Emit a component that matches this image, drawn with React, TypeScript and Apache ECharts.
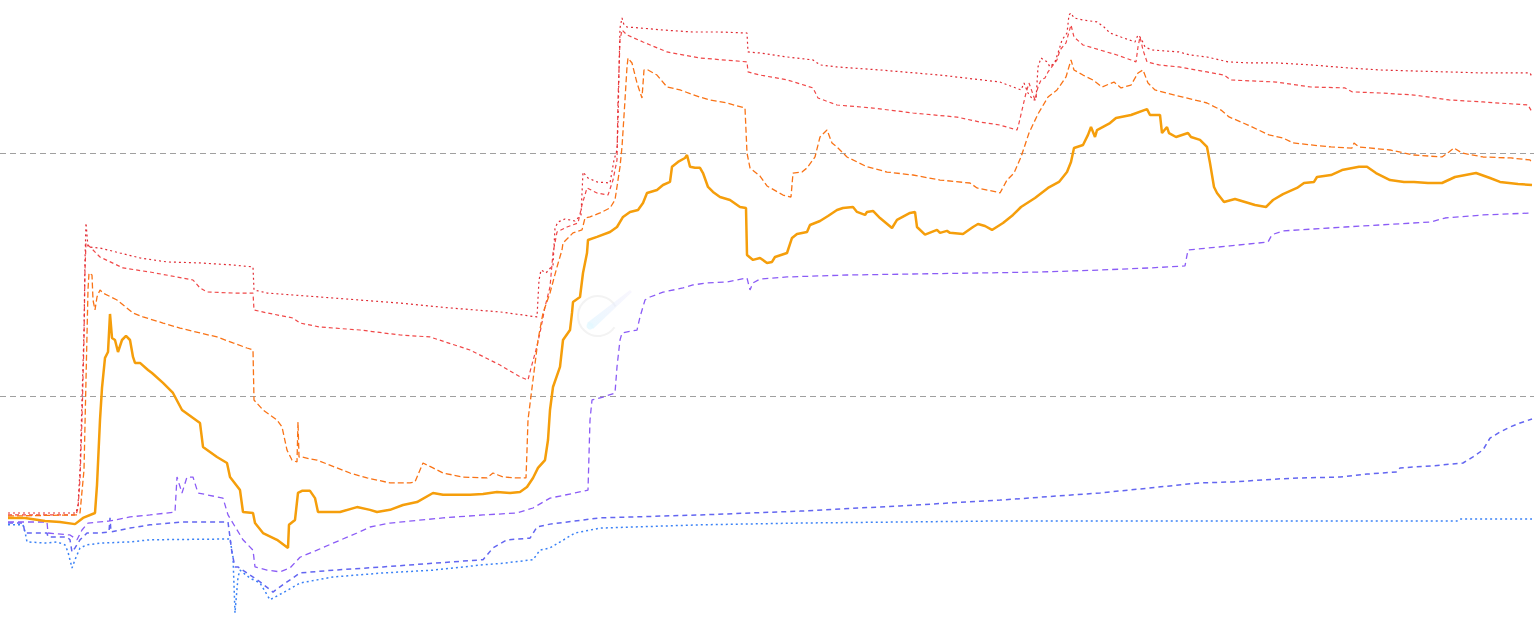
import React, { useEffect, useRef } from "react";
import * as echarts from "echarts";

// x = day index, y = price (log scale)
const priceLine: [number, number][] = [[0,31.5],[17,31.5],[37,30.6],[52,30.3],[67,29.7],[75,31.5],[87,33.0],[89,43.0],[92,79.7],[94,107.9],[97,143.5],[100,151.7],[102,217.6],[104,173.3],[107,170],[110,151.7],[114,170],[118,176.6],[122,170],[125,144.8],[127,136.8],[132,136.8],[140,128],[144,124.3],[155,113.2],[165,102.9],[174,87.6],[192,77.4],[195,61.7],[209,56.1],[219,53],[222,46.4],[232,41],[235,33.3],[245,33],[247,30],[255,27.3],[269,25.6],[280,23.7],[281,29.5],[287,30.9],[290,39.9],[294,40.7],[302,40.7],[307,38],[310,33.3],[332,33.3],[349,34.9],[362,34],[369,33.3],[382,34],[395,35.6],[409,36.6],[425,39.9],[435,39.2],[462,39.2],[475,39.5],[489,40.3],[502,39.9],[512,40.3],[519,42.2],[525,46],[530,50.6],[537,54.5],[540,65.9],[542,87.6],[545,108.9],[552,131.8],[555,170],[562,186.8],[564,219.7],[565,243.7],[572,255.5],[575,320.8],[579,387.7],[580,438.7],[589,451.4],[602,473],[609,496],[615,545.6],[622,572],[630,583],[635,622.7],[639,684.6],[649,704.5],[655,738.5],[662,760],[664,877.5],[670,918.6],[677,954],[679,981],[682,877.5],[687,869],[692,869],[695,827],[700,724.8],[705,691.3],[712,659],[722,640.6],[732,599.5],[738,594],[739,380.3],[745,363.1],[752,370],[759,352.8],[764,356.2],[767,373.2],[779,387.7],[784,447.2],[789,464.5],[799,473],[802,505.5],[812,525.1],[820,550.7],[829,583],[835,594],[845,599.5],[849,572],[857,556],[859,572],[865,577.5],[872,540.1],[884,491.3],[889,530.2],[902,566.6],[907,572],[909,496],[917,461.2],[929,482.3],[932,469.2],[939,478],[942,469.2],[955,464.5],[965,496],[970,510.4],[977,500.7],[984,482.3],[995,515.3],[1005,556],[1013,599.5],[1027,653],[1040,718],[1051,760],[1059,835],[1063,918.6],[1066,1048],[1075,1079],[1080,1187],[1083,1279],[1087,1164],[1089,1243],[1102,1328],[1108,1394],[1123,1434],[1139,1516],[1142,1434],[1152,1434],[1154,1208],[1159,1279],[1161,1208],[1168,1164],[1180,1208],[1183,1164],[1192,1132],[1199,1059],[1202,910],[1206,724.8],[1209,684.6],[1216,628.6],[1227,646.6],[1237,628.6],[1247,611],[1258,599.5],[1265,640.6],[1275,677.6],[1289,718],[1296,752.5],[1306,760],[1309,796.6],[1323,811.7],[1334,851],[1351,877.5],[1359,877.5],[1368,827],[1382,774],[1396,760],[1406,760],[1420,752.5],[1434,752.5],[1447,796.6],[1468,827],[1482,789],[1492,760],[1510,745],[1524,738.5]];

const orangeBand: [number, number][] = [[0,32.07],[69,32.4],[72,33.0],[76,49.6],[78,116.4],[80,273.2],[81,320.8],[84,314.7],[85,248.3],[87,226],[89,255.5],[92,273.2],[95,265.3],[109,248.3],[125,219.7],[135,211.5],[155,199.7],[172,190.3],[192,181.7],[209,175],[225,165.4],[239,157.6],[245,154.6],[246,96.3],[255,87.6],[269,79.7],[274,74.6],[279,59.9],[284,54.5],[289,53.5],[290,78.2],[291,56.1],[294,56.1],[302,55.1],[309,54.5],[329,50.6],[342,48.2],[359,46.0],[382,43.9],[402,43.9],[407,44.3],[412,49.6],[415,53.0],[425,50.6],[435,48.2],[455,46.4],[479,46.0],[485,48.2],[490,47.3],[495,46.4],[509,46.0],[518,46.0],[519,59.9],[520,79.7],[525,116.4],[530,170],[535,219.7],[542,265.3],[549,339.7],[554,398.9],[555,426.3],[565,469],[574,482.3],[577,540.1],[582,545.6],[592,566.6],[602,594],[607,640.6],[612,877.5],[614,1059],[617,1653],[619,2260],[620,2460],[624,2346],[629,1940],[634,1683],[636,2196],[640,2196],[649,2093],[659,1869],[672,1817],[692,1699],[702,1653],[719,1606],[737,1531],[739,1000],[742,868],[752,804],[759,731.6],[775,671.5],[783,659],[785,827],[794,835],[799,868],[807,963],[812,1164],[819,1243],[824,1100],[829,1059],[839,963],[859,877.5],[879,835],[905,811.7],[932,774],[962,752.5],[969,718],[989,691.3],[992,684.6],[999,774],[1006,827],[1013,963],[1021,1208],[1030,1448],[1040,1699],[1049,1817],[1058,2055],[1063,2415],[1066,2196],[1075,2093],[1085,1997],[1094,1869],[1106,1959],[1113,1853],[1123,1903],[1130,2135],[1135,2196],[1140,1940],[1147,1817],[1158,1766],[1175,1699],[1199,1606],[1213,1502],[1221,1408],[1240,1303],[1261,1187],[1275,1153],[1285,1100],[1303,1079],[1323,1059],[1344,1048],[1346,1100],[1351,1059],[1382,1029],[1406,981],[1434,963],[1441,1010],[1446,1048],[1454,1000],[1475,963],[1503,954],[1522,936],[1524,910]];

const redTop: [number, number][] = [[0,33.0],[68,33.0],[70,35.6],[72,49.6],[74,96.3],[76,186.8],[77,363.1],[78,515.3],[80,410.4],[92,406.5],[112,387.7],[132,370],[159,356.2],[192,352.8],[225,346.1],[245,339.7],[246,273.2],[259,265.3],[285,260.4],[312,255.5],[392,241.2],[442,230.3],[492,221.8],[529,211.5],[531,300],[533,329.9],[538,320.8],[545,346.1],[547,491.3],[550,520.1],[557,535],[567,525.1],[573,556],[575,835],[580,789],[589,760],[602,752.5],[606,936],[609,1029],[610,1303],[611,2196],[612,3269],[614,3595],[616,3364],[619,3300],[632,3269],[655,3207],[685,3147],[712,3147],[739,3117],[740,2605],[752,2580],[779,2484],[805,2415],[812,2304],[829,2260],[872,2196],[932,2093],[992,1959],[1013,1817],[1016,1940],[1020,1766],[1025,1653],[1028,1653],[1030,2260],[1033,2460],[1039,2372],[1042,2260],[1047,2372],[1051,2654],[1054,2918],[1059,3117],[1061,3700],[1063,3770],[1066,3595],[1075,3528],[1089,3462],[1096,3300],[1102,3117],[1113,3001],[1127,2864],[1130,3060],[1133,2970],[1137,2731],[1144,2654],[1171,2605],[1182,2531],[1199,2484],[1220,2372],[1240,2349],[1268,2349],[1303,2304],[1340,2239],[1372,2196],[1406,2175],[1441,2155],[1475,2135],[1522,2135],[1524,2055]];

const redBand: [number, number][] = [[0,32.4],[68,32.4],[70,34.6],[72,45.1],[74,79.7],[76,170],[77,329.9],[78,426.3],[92,373.2],[115,336.5],[142,323.7],[169,308.9],[185,300.1],[192,278.3],[199,268],[225,265.3],[245,265.3],[246,226],[259,219.7],[285,209.4],[292,199.7],[312,192.2],[352,186.9],[392,178.3],[422,175],[462,154.6],[492,134.1],[512,119.9],[520,116.4],[523,130.4],[528,154.6],[532,181.7],[537,232.6],[542,281],[545,387.7],[549,473],[559,496],[570,515.3],[574,611],[579,718],[589,684.6],[600,671.5],[605,774],[609,936],[610,1653],[612,2918],[614,3207],[619,3060],[635,2864],[659,2605],[692,2460],[739,2372],[740,2156],[752,2093],[779,2000],[805,1853],[810,1684],[829,1576],[865,1531],[905,1461],[949,1405],[972,1341],[992,1303],[1009,1243],[1011,1328],[1014,1502],[1018,1766],[1021,1940],[1027,1653],[1030,1869],[1033,1997],[1037,2036],[1040,2156],[1049,2415],[1052,2654],[1058,2837],[1061,3147],[1063,3364],[1066,3001],[1075,2783],[1092,2654],[1109,2531],[1123,2415],[1128,2372],[1130,2731],[1132,3001],[1135,2654],[1139,2372],[1151,2304],[1171,2260],[1199,2156],[1216,2093],[1223,1997],[1268,1959],[1303,1869],[1337,1853],[1344,1785],[1372,1766],[1406,1732],[1441,1653],[1475,1622],[1520,1576],[1524,1475]];

const purpleUpper: [number, number][] = [[0,30.3],[39,30.3],[40,27.3],[62,26.8],[69,25.6],[74,28.1],[80,30.0],[102,30.6],[122,31.8],[142,32.4],[167,33.3],[169,46.4],[174,39.9],[179,46.4],[185,46.4],[190,39.9],[215,38.0],[220,32.4],[235,25.6],[245,23.2],[247,19.8],[259,19.2],[272,18.9],[282,19.6],[292,21.7],[309,23.2],[325,24.8],[349,27.3],[362,28.9],[382,30.0],[435,31.5],[475,32.4],[509,33.0],[525,34.6],[542,38.0],[567,39.9],[580,41.0],[582,79.7],[584,96.3],[595,99.0],[607,102.9],[609,131.8],[612,170],[614,181.7],[629,186.8],[632,211.5],[637,248.3],[642,255.5],[655,267.6],[675,278.3],[685,286.4],[699,292],[719,294.8],[739,305.9],[742,273.2],[745,292],[752,302.9],[779,308.9],[839,314.7],[905,317.7],[972,320.8],[1032,323.7],[1092,329.9],[1142,336.5],[1177,343],[1180,398.9],[1222,414.7],[1260,430.2],[1264,461.2],[1275,478],[1337,496],[1423,520.1],[1437,540.1],[1475,556],[1524,566.6]];

const indigoLower: [number, number][] = [[0,30.0],[15,30.0],[17,27.3],[39,27.3],[40,26.3],[59,26.3],[62,25.6],[64,22.8],[67,23.7],[72,25.6],[79,27.3],[92,27.3],[101,27.6],[102,31.5],[103,27.6],[122,28.6],[142,29.5],[175,30.3],[220,30.3],[224,22.6],[227,19.8],[230,19.8],[239,18.7],[252,17.2],[265,15.6],[272,16.4],[292,18.7],[325,19.2],[375,19.8],[425,20.5],[475,21.2],[485,23.7],[499,25.6],[522,26.0],[529,28.9],[542,29.7],[592,31.5],[692,32.4],[792,33.6],[892,35.3],[992,37.3],[1092,39.9],[1192,43.9],[1225,44.3],[1272,45.6],[1292,46.0],[1332,46.4],[1359,47.7],[1389,48.7],[1392,50.6],[1425,51.6],[1455,53.0],[1465,56.2],[1475,60.0],[1482,67.1],[1492,71.1],[1502,74.5],[1512,77.4],[1524,80.4]];

const blueFloor: [number, number][] = [[0,29.5],[15,29.5],[17,27.6],[19,25.1],[39,24.8],[49,25.1],[57,24.4],[60,22.8],[64,19.6],[67,21.2],[72,23.7],[79,24.4],[92,24.8],[122,25.1],[142,25.6],[222,25.8],[225,21.7],[227,12.8],[230,18.0],[232,19.2],[242,17.8],[252,17.0],[262,14.5],[275,15.5],[292,17.0],[325,18.0],[375,18.7],[425,19.2],[475,20.2],[495,20.5],[525,21.2],[532,23.2],[542,23.7],[567,27.3],[592,28.6],[692,29.5],[792,30.0],[892,30.3],[992,30.6],[1192,30.6],[1449,30.6],[1452,31.2],[1524,31.2]];

const Y_MIN = 10.585;
const Y_MAX = 4262;

function lineSeries(name: string, data: [number, number][], color: string, width: number, type: any, z: number) {
  return {
    name,
    type: "line",
    data,
    showSymbol: false,
    symbol: "none",
    silent: true,
    z,
    lineStyle: { color, width, type },
  };
}

export default function App() {
  const ref = useRef<HTMLDivElement>(null);
  useEffect(() => {
    if (!ref.current) return;
    const chart = echarts.init(ref.current, undefined, { renderer: "svg" });
    chart.setOption({
      animation: false,
      backgroundColor: "#ffffff",
      grid: { left: 0, right: 6, top: 0, bottom: 0, containLabel: false },
      xAxis: { type: "value", min: -8, max: 1526, show: false },
      yAxis: {
        type: "log",
        logBase: 10,
        min: Y_MIN,
        max: Y_MAX,
        axisLine: { show: false },
        axisTick: { show: false },
        axisLabel: { show: false },
        splitLine: {
          show: true,
          showMinLine: false,
          showMaxLine: false,
          lineStyle: { color: "#a0a0a0", width: 1, type: [6, 4] },
        },
      },
      graphic: [
        {
          type: "group",
          silent: true,
          z: 0,
          children: [
            {
              type: "arc",
              shape: { cx: 598, cy: 316, r: 20, startAngle: 0.6, endAngle: Math.PI * 2 - 0.5 },
              style: { stroke: "#f3f3f3", lineWidth: 2, fill: "none" },
            },
            {
              type: "polygon",
              shape: { points: [[587, 323], [630, 290], [632, 292], [593, 329]] },
              style: {
                fill: new echarts.graphic.LinearGradient(0, 1, 1, 0, [
                  { offset: 0, color: "rgba(225,247,255,0.75)" },
                  { offset: 1, color: "rgba(236,232,252,0.35)" },
                ]),
              },
            },
            {
              type: "circle",
              shape: { cx: 590, cy: 326, r: 3.5 },
              style: { fill: "rgba(226,248,255,0.8)" },
            },
          ],
        },
      ],
      series: [
        lineSeries("floor", blueFloor, "#3b82f6", 1.5, [2, 3], 2),
        lineSeries("lower", indigoLower, "#6366f1", 1.5, [5, 4], 2),
        lineSeries("upper", purpleUpper, "#8b5cf6", 1.3, [6, 4], 2),
        lineSeries("band2", redBand, "#f04848", 1.2, [4, 3], 3),
        lineSeries("top", redTop, "#e02c34", 1.2, [2, 3], 3),
        lineSeries("band1", orangeBand, "#f97316", 1.3, [6, 3], 4),
        lineSeries("price", priceLine, "#f59e0b", 2.5, "solid", 5),
      ],
    });
    return () => chart.dispose();
  }, []);
  return (
    <div
      ref={ref}
      style={{ position: "absolute", left: 0, top: 0, width: 1540, height: 633 }}
    />
  );
}
